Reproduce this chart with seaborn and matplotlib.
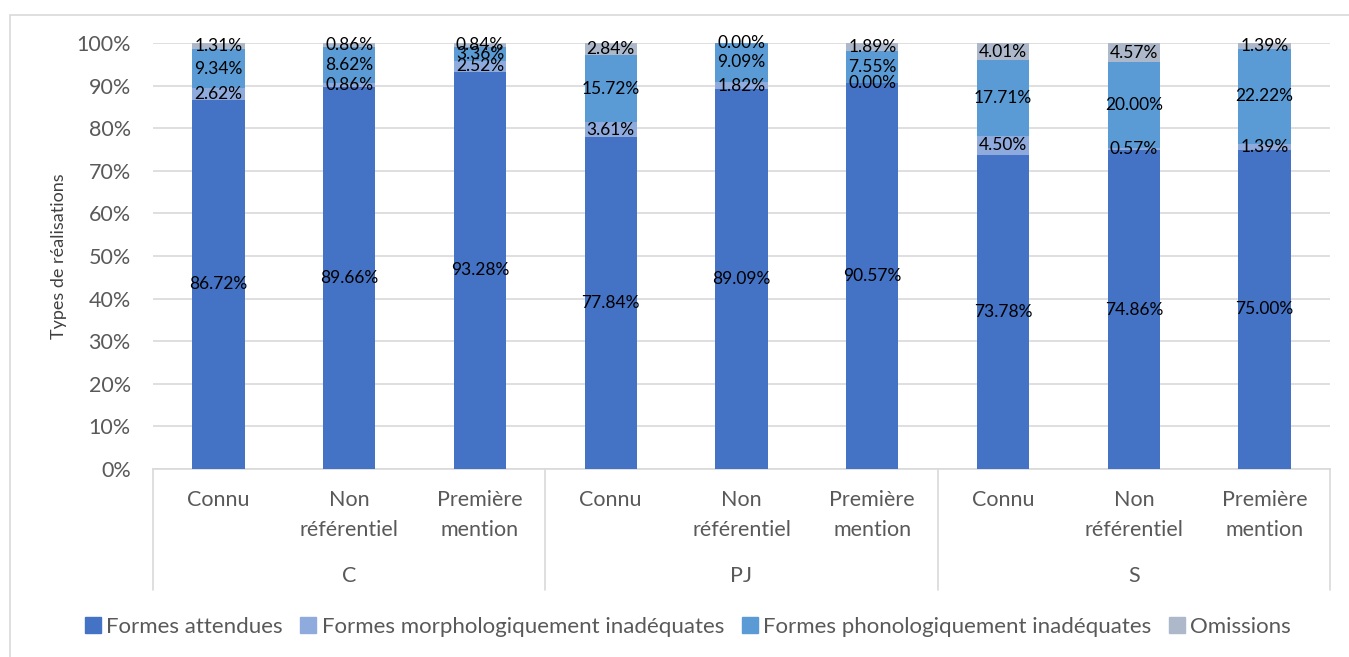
import numpy as np
import pandas as pd
import matplotlib
matplotlib.use("Agg")
import matplotlib.pyplot as plt
import matplotlib.transforms as mtransforms
from matplotlib.patches import Rectangle
from matplotlib.lines import Line2D
import seaborn as sns

# données (en %)
groupes = ["C", "PJ", "S"]
sous_cats = ["Connu", "Non\nréférentiel", "Première\nmention"]
series = ["Formes attendues", "Formes morphologiquement inadéquates",
          "Formes phonologiquement inadéquates", "Omissions"]
attendues = [86.72, 89.66, 93.28, 77.84, 89.09, 90.57, 73.78, 74.86, 75.00]
morpho = [2.62, 0.86, 2.52, 3.61, 1.82, 0.00, 4.50, 0.57, 1.39]
phono = [9.34, 8.62, 3.36, 15.72, 9.09, 7.55, 17.71, 20.00, 22.22]
omissions = [1.31, 0.86, 0.84, 2.84, 0.00, 1.89, 4.01, 4.57, 1.39]
couleurs = ["#4472C4", "#8FAADC", "#5B9BD5", "#ADB9CA"]

sns.set_style("white")
plt.rcParams['font.family'] = ['Lato', 'DejaVu Sans']

cles = [g + "|" + s for g in groupes for s in sous_cats]
valeurs = np.array([attendues, morpho, phono, omissions]) / 100.0
cumul = np.cumsum(valeurs, axis=0)

df = pd.DataFrame({"cle": cles})
for i, nom in enumerate(series):
    df[nom] = valeurs[i]
    df["cumul_" + str(i)] = cumul[i]

fig = plt.figure(figsize=(13.49, 6.57), dpi=100)
ax = fig.add_axes([153 / 1349, 1 - 469 / 657, 1177 / 1349, 426 / 657])

# barres empilées : on dessine les cumuls du plus haut au plus bas
for i in range(3, -1, -1):
    sns.barplot(data=df, x="cle", y="cumul_" + str(i), order=cles, color=couleurs[i],
                width=0.4, saturation=1, linewidth=0, ax=ax, zorder=3)

# étiquettes de données au milieu de chaque segment
for j in range(len(cles)):
    for i in range(4):
        bas = cumul[i][j] - valeurs[i][j]
        milieu = bas + valeurs[i][j] / 2
        ax.text(j, milieu, f"{valeurs[i][j] * 100:.2f}%", ha="center", va="center",
                fontsize=12.5, color="black", zorder=5)

ax.set_ylim(0, 1)
ax.set_xlim(-0.5, len(cles) - 0.5)
ax.set_yticks(np.arange(0, 1.01, 0.1))
ax.set_yticklabels([f"{int(round(v * 100))}%" for v in np.arange(0, 1.01, 0.1)],
                   fontsize=15.5, color="#595959")
ax.yaxis.grid(True, color="#D9D9D9", linewidth=1.2, zorder=0)
ax.set_axisbelow(True)
ax.tick_params(axis="y", length=0, pad=16)
ax.set_ylabel("Types de réalisations", fontsize=13, color="#404040", labelpad=7)
ax.set_xlabel("")

ax.set_xticks(range(len(cles)))
ax.set_xticklabels(sous_cats * len(groupes), fontsize=15.5, color="#595959",
                   linespacing=1.65, va="top")
ax.tick_params(axis="x", length=0, pad=15)

for cote in ["left", "right", "top"]:
    ax.spines[cote].set_visible(False)
ax.spines["bottom"].set_color("#D9D9D9")
ax.spines["bottom"].set_linewidth(1.2)

# axe à deux niveaux : séparateurs et noms des groupes
trans = mtransforms.blended_transform_factory(ax.transData, ax.transAxes)
bas_sep = -121 / 426
for k in range(len(groupes) + 1):
    xs = k * len(sous_cats) - 0.5
    ax.add_line(Line2D([xs, xs], [0, bas_sep], transform=trans, color="#D9D9D9",
                       linewidth=1.2, clip_on=False))
for k, g in enumerate(groupes):
    xc = k * len(sous_cats) + (len(sous_cats) - 1) / 2
    ax.text(xc, -107 / 426, g, transform=trans, ha="center", va="center",
            fontsize=15.5, color="#595959")

# légende
poignees = [Line2D([0], [0], marker="s", linestyle="", markersize=11,
                   markerfacecolor=c, markeredgecolor=c) for c in couleurs]
fig.legend(poignees, series, loc="center", bbox_to_anchor=(688 / 1349, 1 - 627 / 657),
           ncol=4, frameon=False, fontsize=16, handlelength=0.7, handletextpad=0.25,
           columnspacing=0.8, labelcolor="#595959")

# cadre du graphique
fig.patches.append(Rectangle((10 / 1349, -0.01), 1.02, 1 - 15 / 657 + 0.01,
                             transform=fig.transFigure, fill=False,
                             edgecolor="#D9D9D9", linewidth=1.2))

fig.savefig("out.png", dpi=100)
